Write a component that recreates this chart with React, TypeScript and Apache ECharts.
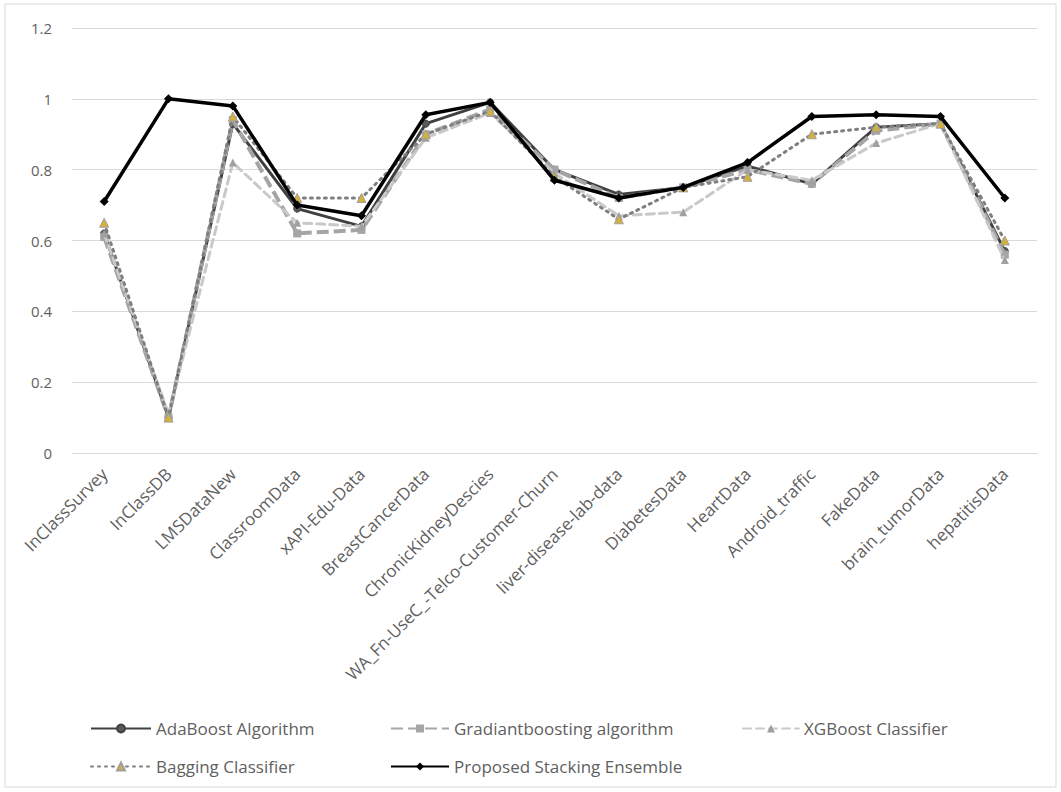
import React, { useEffect, useRef } from "react";
import * as echarts from "echarts";

const categories = [
  "InClassSurvey",
  "InClassDB",
  "LMSDataNew",
  "ClassroomData",
  "xAPI-Edu-Data",
  "BreastCancerData",
  "ChronicKidneyDescies",
  "WA_Fn-UseC_-Telco-Customer-Churn",
  "liver-disease-lab-data",
  "DiabetesData",
  "HeartData",
  "Android_traffic",
  "FakeData",
  "brain_tumorData",
  "hepatitisData",
];

const adaBoost = [0.62, 0.1, 0.93, 0.69, 0.64, 0.93, 0.99, 0.8, 0.73, 0.75, 0.81, 0.76, 0.92, 0.93, 0.57];
const gradientBoosting = [0.61, 0.1, 0.94, 0.62, 0.63, 0.9, 0.97, 0.8, 0.72, 0.75, 0.8, 0.76, 0.91, 0.93, 0.56];
const xgBoost = [0.62, 0.11, 0.82, 0.65, 0.64, 0.89, 0.96, 0.79, 0.67, 0.68, 0.8, 0.77, 0.875, 0.93, 0.545];
const bagging = [0.65, 0.1, 0.95, 0.72, 0.72, 0.9, 0.965, 0.78, 0.66, 0.75, 0.78, 0.9, 0.92, 0.93, 0.6];
const stacking = [0.71, 1.0, 0.98, 0.7, 0.67, 0.955, 0.99, 0.77, 0.72, 0.75, 0.82, 0.95, 0.955, 0.95, 0.72];

const yTicks = { min: 0, max: 1.2, interval: 0.2 };

const seriesNames = [
  "AdaBoost Algorithm",
  "Gradiantboosting algorithm",
  "XGBoost Classifier",
  "Bagging Classifier",
  "Proposed Stacking Ensemble",
];

export default function App() {
  const ref = useRef<HTMLDivElement>(null);
  useEffect(() => {
    if (!ref.current) return;
    const chart = echarts.init(ref.current, undefined, { renderer: "svg" });
    const font = "'Open Sans', 'Liberation Sans', sans-serif";
    const textColor = "#5f5f5f";
    const legendBase = {
      itemHeight: 10,
      itemGap: 0,
      padding: 0,
      orient: "horizontal" as const,
      textStyle: { color: textColor, fontSize: 17, fontFamily: font },
    };
    chart.setOption({
      animation: false,
      backgroundColor: "#ffffff",
      graphic: [
        {
          type: "rect",
          shape: { x: 5, y: 4, width: 1051, height: 783 },
          style: { fill: "none", stroke: "#d9d9d9", lineWidth: 1 },
          silent: true,
        },
      ],
      grid: { left: 72, right: 24, top: 28, bottom: 339, containLabel: false },
      legend: [
        { ...legendBase, itemWidth: 60, data: [seriesNames[0]], left: 90, top: 720 },
        { ...legendBase, itemWidth: 58, data: [seriesNames[1]], left: 390, top: 720 },
        { ...legendBase, itemWidth: 56, data: [seriesNames[2]], left: 742, top: 720 },
        { ...legendBase, itemWidth: 60, data: [seriesNames[3]], left: 90, top: 758 },
        { ...legendBase, itemWidth: 58, data: [seriesNames[4]], left: 390, top: 758 },
      ],
      xAxis: {
        type: "category",
        data: categories,
        boundaryGap: true,
        axisLine: { show: true, lineStyle: { color: "#d9d9d9", width: 1 } },
        axisTick: { show: false },
        axisLabel: {
          interval: 0,
          rotate: 45,
          color: textColor,
          fontSize: 17,
          fontFamily: font,
          margin: 18,
        },
      },
      yAxis: {
        type: "value",
        min: yTicks.min,
        max: yTicks.max,
        interval: yTicks.interval,
        axisLine: { show: false },
        axisTick: { show: false },
        splitLine: { lineStyle: { color: "#d9d9d9", width: 1 } },
        axisLabel: {
          color: textColor,
          fontSize: 15,
          fontFamily: font,
          margin: 20,
          formatter: (v: number) => String(Math.round(v * 10) / 10),
        },
      },
      series: [
        {
          name: seriesNames[0],
          type: "line",
          data: adaBoost,
          symbol: "circle",
          symbolSize: 7,
          lineStyle: { color: "#404040", width: 3, type: "solid" },
          itemStyle: { color: "#595959", borderColor: "#404040", borderWidth: 1 },
          z: 2,
        },
        {
          name: seriesNames[1],
          type: "line",
          data: gradientBoosting,
          symbol: "rect",
          symbolSize: 8,
          lineStyle: { color: "#a5a5a5", width: 4, type: [12, 5] },
          itemStyle: { color: "#a5a5a5" },
          z: 3,
        },
        {
          name: seriesNames[2],
          type: "line",
          data: xgBoost,
          symbol: "triangle",
          symbolSize: 8,
          lineStyle: { color: "#c9c9c9", width: 3, type: [8, 5], cap: "round" },
          itemStyle: { color: "#a0a0a0" },
          z: 4,
        },
        {
          name: seriesNames[3],
          type: "line",
          data: bagging,
          symbol: "triangle",
          symbolSize: 9,
          lineStyle: { color: "#7f7f7f", width: 3, type: [2, 5], cap: "round" },
          itemStyle: { color: "#d4b13a", borderColor: "#a0a0a0", borderWidth: 1 },
          z: 5,
        },
        {
          name: seriesNames[4],
          type: "line",
          data: stacking,
          symbol: "diamond",
          symbolSize: 9,
          lineStyle: { color: "#000000", width: 3.5, type: "solid" },
          itemStyle: { color: "#000000" },
          z: 6,
        },
      ],
    });
    return () => chart.dispose();
  }, []);
  return (
    <div
      ref={ref}
      style={{ position: "absolute", left: 0, top: 0, width: 1061, height: 792 }}
    />
  );
}
